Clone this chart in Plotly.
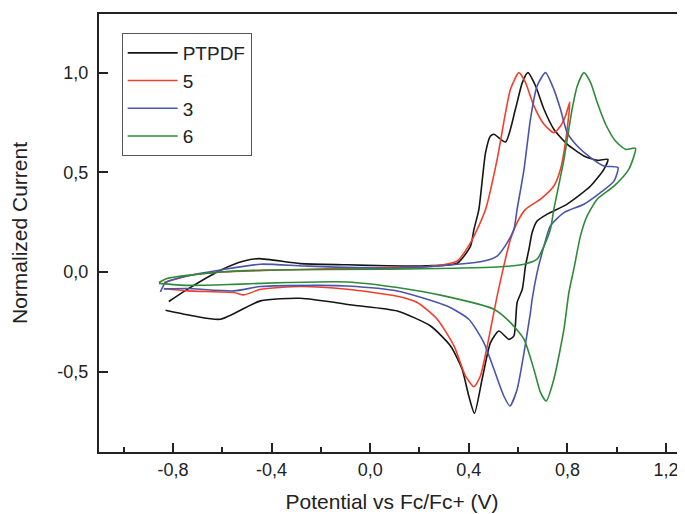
import plotly.graph_objects as go

# PTPDF (black)
ptpdf_v = [-0.817, -0.742, -0.607, -0.512, -0.452, -0.284, -0.093, 0.069, 0.231, 0.353, 0.407, 0.421, 0.441,
           0.468, 0.488, 0.502, 0.549, 0.589, 0.617, 0.640, 0.671, 0.705, 0.745, 0.799, 0.867, 0.921, 0.964,
           0.948, 0.894, 0.799, 0.718, 0.677, 0.657, 0.644, 0.630, 0.617, 0.596, 0.583, 0.563, 0.522, 0.488,
           0.454, 0.423, 0.400, 0.373, 0.326, 0.245, 0.110, -0.066, -0.283, -0.445, -0.607, -0.715, -0.830]
ptpdf_i = [-0.148, -0.087, 0.009, 0.055, 0.067, 0.042, 0.036, 0.031, 0.031, 0.044, 0.130, 0.214, 0.314,
           0.599, 0.682, 0.691, 0.652, 0.816, 0.950, 1.000, 0.933, 0.816, 0.716, 0.641, 0.582, 0.560, 0.565,
           0.515, 0.431, 0.340, 0.290, 0.256, 0.198, 0.114, 0.030, -0.087, -0.153, -0.321, -0.338, -0.296, -0.354,
           -0.538, -0.709, -0.622, -0.488, -0.371, -0.271, -0.196, -0.167, -0.132, -0.145, -0.237, -0.221, -0.192]

# 5 (red)
c5_v = [-0.837, -0.742, -0.607, -0.404, -0.174, 0.069, 0.231, 0.353, 0.407, 0.434, 0.468, 0.515, 0.549,
        0.569, 0.603, 0.630, 0.664, 0.705, 0.745, 0.772, 0.792, 0.810,
        0.792, 0.772, 0.745, 0.691, 0.630, 0.596, 0.569, 0.542, 0.515, 0.475, 0.447, 0.421, 0.387, 0.340,
        0.272, 0.191, 0.110, -0.093, -0.283, -0.445, -0.512, -0.553, -0.742, -0.837]
c5_i = [-0.053, -0.020, 0.000, 0.009, 0.016, 0.022, 0.026, 0.055, 0.147, 0.214, 0.314, 0.565, 0.799,
        0.916, 1.000, 0.950, 0.833, 0.741, 0.699, 0.732, 0.782, 0.853,
        0.649, 0.515, 0.431, 0.365, 0.314, 0.248, 0.164, 0.030, -0.120, -0.371, -0.522, -0.575, -0.522, -0.371,
        -0.237, -0.153, -0.122, -0.087, -0.073, -0.087, -0.115, -0.103, -0.095, -0.083]

# 3 (blue)
c3_v = [-0.851, -0.830, -0.742, -0.607, -0.445, -0.269, 0.069, 0.312, 0.461, 0.515, 0.556, 0.583, 0.596,
        0.624, 0.650, 0.677, 0.711, 0.745, 0.772, 0.799, 0.840, 0.894, 0.948, 1.005,
        0.989, 0.934, 0.867, 0.786, 0.731, 0.705, 0.677, 0.657, 0.650, 0.624, 0.596, 0.567, 0.542, 0.502,
        0.461, 0.400, 0.312, 0.110, -0.093, -0.202, -0.445, -0.553, -0.742, -0.837]
c3_i = [-0.100, -0.053, -0.020, 0.010, 0.039, 0.030, 0.019, 0.034, 0.055, 0.080, 0.147, 0.214, 0.314,
        0.515, 0.766, 0.933, 1.000, 0.916, 0.816, 0.699, 0.632, 0.574, 0.532, 0.524,
        0.456, 0.398, 0.340, 0.298, 0.231, 0.130, -0.003, -0.137, -0.204, -0.404, -0.589, -0.672, -0.622, -0.488,
        -0.354, -0.237, -0.171, -0.095, -0.070, -0.067, -0.073, -0.095, -0.083, -0.085]

# 6 (green)
c6_v = [-0.857, -0.824, -0.742, -0.607, -0.404, 0.069, 0.515, 0.624, 0.677, 0.705, 0.731, 0.745, 0.786,
        0.819, 0.840, 0.867, 0.894, 0.921, 0.955, 0.995, 1.036, 1.076,
        1.049, 0.989, 0.921, 0.880, 0.853, 0.826, 0.806, 0.786, 0.745, 0.714, 0.691, 0.664, 0.624, 0.569,
        0.502, 0.299, 0.110, -0.093, -0.337, -0.553, -0.742, -0.857]
c6_i = [-0.053, -0.033, -0.017, 0.000, 0.010, 0.014, 0.025, 0.039, 0.064, 0.130, 0.214, 0.314, 0.565,
        0.816, 0.933, 1.000, 0.950, 0.850, 0.741, 0.657, 0.615, 0.621,
        0.515, 0.431, 0.365, 0.281, 0.181, 0.014, -0.103, -0.287, -0.538, -0.647, -0.605, -0.488, -0.338, -0.254,
        -0.187, -0.120, -0.078, -0.050, -0.053, -0.062, -0.067, -0.057]

series = [
    ("PTPDF", ptpdf_v, ptpdf_i, "#151515"),
    ("5", c5_v, c5_i, "#f0402c"),
    ("3", c3_v, c3_i, "#4a55a8"),
    ("6", c6_v, c6_i, "#2f8a3a"),
]

x_ticks = [-0.8, -0.4, 0.0, 0.4, 0.8, 1.2]
x_ticktext = ["-0,8", "-0,4", "0,0", "0,4", "0,8", "1,2"]
y_ticks = [-0.5, 0.0, 0.5, 1.0]
y_ticktext = ["-0,5", "0,0", "0,5", "1,0"]

fig = go.Figure()
for name, v, i, col in series:
    fig.add_trace(go.Scatter(x=v, y=i, mode="lines", name=name,
                             line=dict(color=col, width=1.6, shape="spline", smoothing=0.6)))

font = "Liberation Sans, Arial, sans-serif"
# page body has an 8px margin, so the figure is 8px smaller than the window
fig.update_layout(
    width=677, height=506,
    margin=dict(l=91, r=0, t=6, b=62, autoexpand=False),
    paper_bgcolor="white", plot_bgcolor="white",
    font=dict(family=font, size=18, color="#222"),
    showlegend=True,
    legend=dict(x=0.0387, y=0.9566, xanchor="left", yanchor="top",
                bordercolor="#555", borderwidth=1, bgcolor="white",
                font=dict(size=19, color="#222"), itemwidth=50,
                tracegroupgap=0),
)
fig.update_xaxes(
    range=[-1.10, 1.277], tickvals=x_ticks, ticktext=x_ticktext,
    ticks="inside", ticklen=9, tickwidth=1.5, tickcolor="#222",
    minor=dict(dtick=0.2, tick0=0, ticks="inside", ticklen=5, tickwidth=1.5, tickcolor="#222"),
    showline=True, linecolor="#222", linewidth=2, mirror=True,
    showgrid=False, zeroline=False, automargin=False,
    title=dict(text="Potential vs Fc/Fc+ (V)", font=dict(size=21), standoff=16),
)
fig.update_yaxes(
    range=[-0.903, 1.294], tickvals=y_ticks, ticktext=y_ticktext,
    ticks="inside", ticklen=9, tickwidth=1.5, tickcolor="#222",
    ticklabelstandoff=5,
    showline=True, linecolor="#222", linewidth=2, mirror=True,
    showgrid=False, zeroline=False, automargin=False,
    title=dict(text="Normalized Current", font=dict(size=21), standoff=25),
)

fig.write_html("out.html")
